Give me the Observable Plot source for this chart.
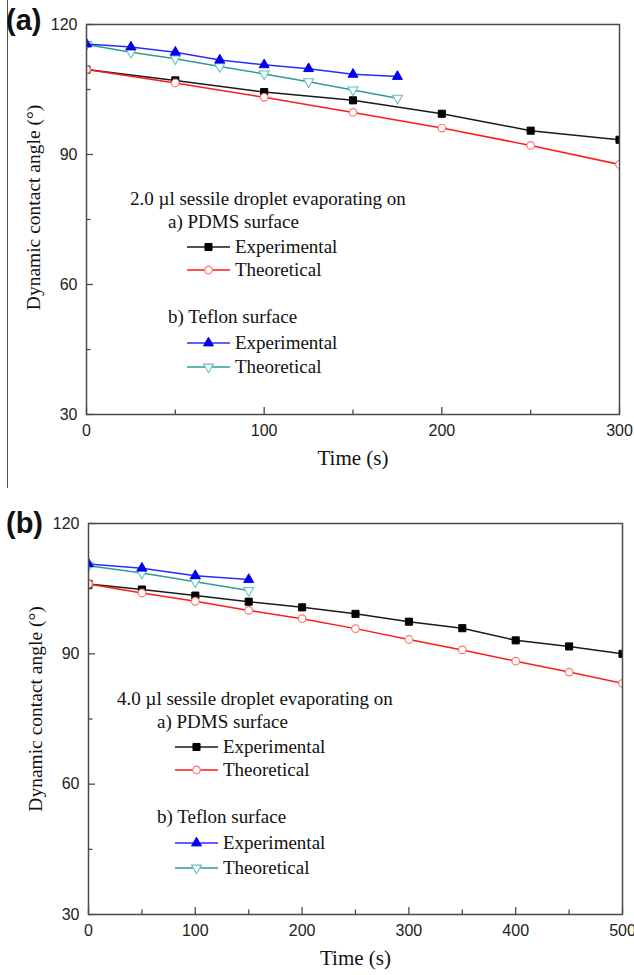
<!DOCTYPE html>
<html><head><meta charset="utf-8">
<script src="https://cdn.jsdelivr.net/npm/d3@7"></script>
<script src="https://cdn.jsdelivr.net/npm/@observablehq/plot@0.6"></script>
<style>
body{margin:0;background:#fff;}
#wrap{position:relative;width:634px;height:975px;overflow:hidden;background:#fff;}
#pa{position:absolute;left:0;top:0;}
#pb{position:absolute;left:0;top:490px;}
#ov{position:absolute;left:0;top:0;pointer-events:none;}
</style></head><body>
<div id="wrap"><div id="pa"></div><div id="pb"></div><svg id="ov" width="634" height="975"></svg></div>
<script>
// ---------- DATA ----------
// Panel (a): 2.0 µl droplet
const timeA_pdms   = [0, 50, 100, 150, 200, 250, 300];
const expA_pdms    = [109.6, 107.1, 104.4, 102.5, 99.4, 95.5, 93.4];
const theoA_pdms   = [109.6, 106.5, 103.2, 99.7, 96.1, 92.1, 87.7];
const timeA_teflon = [0, 25, 50, 75, 100, 125, 150, 175];
const expA_teflon  = [115.5, 114.8, 113.6, 111.8, 110.7, 109.8, 108.5, 108.0];
const theoA_teflon = [115.4, 113.6, 112.1, 110.3, 108.6, 106.8, 104.9, 103.0];
// Panel (b): 4.0 µl droplet
const timeB_pdms   = [0, 50, 100, 150, 200, 250, 300, 350, 400, 450, 500];
const expB_pdms    = [106.1, 104.8, 103.4, 102.0, 100.7, 99.2, 97.4, 95.9, 93.1, 91.7, 90.0];
const theoB_pdms   = [106.1, 104.0, 102.1, 100.0, 98.1, 95.8, 93.3, 90.9, 88.3, 85.8, 83.2];
const timeB_teflon = [0, 50, 100, 150];
const expB_teflon  = [110.7, 109.7, 108.0, 107.1];
const theoB_teflon = [110.3, 108.6, 106.6, 104.6];
// Ticks
const yTicks      = [30, 60, 90, 120];
const yMinor      = [45, 75, 105];
const xTicksA     = [0, 100, 200, 300];
const xMinorA     = [50, 150, 250];
const xTicksB     = [0, 100, 200, 300, 400, 500];
const xMinorB     = [50, 150, 250, 350, 450];
// Texts
const yTitle = "Dynamic contact angle (°)";
const xTitle = "Time (s)";
const legendTitleA = "2.0 µl sessile droplet evaporating on";
const legendTitleB = "4.0 µl sessile droplet evaporating on";
const groupLabels = ["a) PDMS surface", "b) Teflon surface"];
const seriesLabels = ["Experimental", "Theoretical"];

// ---------- STYLES ----------
const triangleDown = {
  draw(ctx, size) {
    const y = -Math.sqrt(size / (Math.sqrt(3) * 3));
    ctx.moveTo(0, -y * 2);
    ctx.lineTo(-Math.sqrt(3) * y, y);
    ctx.lineTo(Math.sqrt(3) * y, y);
    ctx.closePath();
  }
};
const styles = {
  pdmsExp:    {line: "#1a1a1a", symbol: "square",   r: 4.0, fill: "#000",    stroke: "#000",    sw: 1},
  pdmsTheo:   {line: "#ff1a1a", symbol: "circle",   r: 3.8, fill: "#fff",    stroke: "#ff7474", sw: 1.2},
  teflonExp:  {line: "#2b2bff", symbol: "triangle", r: 3.7, fill: "#0000ee", stroke: "#0000ee", sw: 1},
  teflonTheo: {line: "#2e9c95", symbol: triangleDown, r: 3.7, fill: "#fff", stroke: "#62c2ba", sw: 1.1}
};
const serif = "Liberation Serif, Times New Roman, serif";
const sans = "Liberation Sans, Arial, sans-serif";
const axisColor = "#4a4a4a";

function panel(cfg) {
  const innerW = cfg.width - cfg.ml - cfg.mr;
  const innerH = cfg.height - cfg.mt - cfg.mb;
  const marks = [];
  for (const s of cfg.series) {
    const st = styles[s.key];
    const rows = s.t.map((t, i) => ({t, v: s.v[i]}));
    marks.push(Plot.line(rows, {x: "t", y: "v", stroke: st.line, strokeWidth: 1.5, clip: true}));
  }
  for (const s of cfg.series) {
    const st = styles[s.key];
    const rows = s.t.map((t, i) => ({t, v: s.v[i]}));
    marks.push(Plot.dot(rows, {x: "t", y: "v", symbol: st.symbol, r: st.r, fill: st.fill, stroke: st.stroke, strokeWidth: st.sw, clip: true}));
  }
  marks.push(
    Plot.tickX(cfg.xTicks, {x: d => d, insetTop: innerH - 7, stroke: axisColor, strokeWidth: 1.3}),
    Plot.tickX(cfg.xMinor, {x: d => d, insetTop: innerH - 4.5, stroke: axisColor, strokeWidth: 1.3}),
    Plot.tickY(yTicks, {y: d => d, insetRight: innerW - 7, stroke: axisColor, strokeWidth: 1.3}),
    Plot.tickY(yMinor, {y: d => d, insetRight: innerW - 4.5, stroke: axisColor, strokeWidth: 1.3}),
    Plot.axisX({ticks: cfg.xTicks, tickSize: 0, tickPadding: 10, fontSize: 16, fontFamily: sans, tickFormat: d => String(d), label: null, fill: "#222"}),
    Plot.axisY({ticks: yTicks, tickSize: 0, tickPadding: 9, fontSize: 16, fontFamily: sans, tickFormat: d => String(d), label: null, fill: "#222"}),
    Plot.frame({stroke: axisColor, strokeWidth: 1.5}),
    Plot.text([xTitle], {frameAnchor: "bottom", lineAnchor: "middle", textAnchor: "middle", dy: 44, fontSize: 21, fontFamily: serif, fill: "#111"}),
    Plot.text([yTitle], {frameAnchor: "left", lineAnchor: "middle", textAnchor: "middle", rotate: -90, dx: -53, dy: cfg.yTitleDy, fontSize: 19.5, fontFamily: serif, fill: "#111"})
  );
  return Plot.plot({
    width: cfg.width, height: cfg.height,
    marginLeft: cfg.ml, marginRight: cfg.mr, marginTop: cfg.mt, marginBottom: cfg.mb,
    x: {domain: cfg.xDomain},
    y: {domain: [30, 120]},
    style: {background: "transparent", overflow: "visible"},
    marks
  });
}

const plotA = panel({
  width: 634, height: 490, ml: 86, mr: 15, mt: 24, mb: 76,
  xDomain: [0, 300], xTicks: xTicksA, xMinor: xMinorA, yTitleDy: -12,
  series: [
    {key: "pdmsExp", t: timeA_pdms, v: expA_pdms},
    {key: "pdmsTheo", t: timeA_pdms, v: theoA_pdms},
    {key: "teflonTheo", t: timeA_teflon, v: theoA_teflon},
    {key: "teflonExp", t: timeA_teflon, v: expA_teflon}
  ]
});
document.getElementById("pa").appendChild(plotA);

const plotB = panel({
  width: 634, height: 485, ml: 88, mr: 12, mt: 33, mb: 61,
  xDomain: [0, 500], xTicks: xTicksB, xMinor: xMinorB, yTitleDy: -10,
  series: [
    {key: "pdmsExp", t: timeB_pdms, v: expB_pdms},
    {key: "pdmsTheo", t: timeB_pdms, v: theoB_pdms},
    {key: "teflonTheo", t: timeB_teflon, v: theoB_teflon},
    {key: "teflonExp", t: timeB_teflon, v: expB_teflon}
  ]
});
document.getElementById("pb").appendChild(plotB);

// ---------- OVERLAY: panel letters, legends, scan edge ----------
const ov = d3.select("#ov");
ov.append("line").attr("x1", 7.5).attr("x2", 7.5).attr("y1", 0).attr("y2", 488)
  .attr("stroke", "#555").attr("stroke-width", 1);
ov.append("text").attr("x", 6).attr("y", 30).text("(a)")
  .attr("font-family", sans).attr("font-weight", "bold").attr("font-size", 29).attr("fill", "#111");
ov.append("text").attr("x", 6).attr("y", 533).text("(b)")
  .attr("font-family", sans).attr("font-weight", "bold").attr("font-size", 29).attr("fill", "#111");

function legend(L) {
  const g = ov.append("g").attr("font-family", serif).attr("font-size", 19).attr("fill", "#111");
  g.append("text").attr("x", L.titleX).attr("y", L.titleY).text(L.title);
  g.append("text").attr("x", L.headX).attr("y", L.headY[0]).text(groupLabels[0]);
  g.append("text").attr("x", L.headX).attr("y", L.headY[1]).text(groupLabels[1]);
  const keys = ["pdmsExp", "pdmsTheo", "teflonExp", "teflonTheo"];
  keys.forEach((k, i) => {
    const st = styles[k];
    const y = L.rowY[i];
    g.append("line").attr("x1", L.lineX[0]).attr("x2", L.lineX[1]).attr("y1", y).attr("y2", y)
      .attr("stroke", st.line).attr("stroke-width", 1.5);
    const sym = typeof st.symbol === "string"
      ? {square: d3.symbolSquare, circle: d3.symbolCircle, triangle: d3.symbolTriangle}[st.symbol]
      : st.symbol;
    g.append("path").attr("d", d3.symbol(sym, st.r * st.r * Math.PI)())
      .attr("transform", `translate(${(L.lineX[0] + L.lineX[1]) / 2},${y})`)
      .attr("fill", st.fill).attr("stroke", st.stroke).attr("stroke-width", st.sw);
    g.append("text").attr("x", L.textX).attr("y", y + 6).text(seriesLabels[i % 2]);
  });
}
legend({title: legendTitleA, titleX: 130, titleY: 205, headX: 168, headY: [228, 323],
  lineX: [187, 230], rowY: [247, 270, 343, 367], textX: 235});
legend({title: legendTitleB, titleX: 117, titleY: 705, headX: 157, headY: [728, 823],
  lineX: [175, 218], rowY: [747, 770, 843, 868], textX: 223});
</script>
</body></html>
